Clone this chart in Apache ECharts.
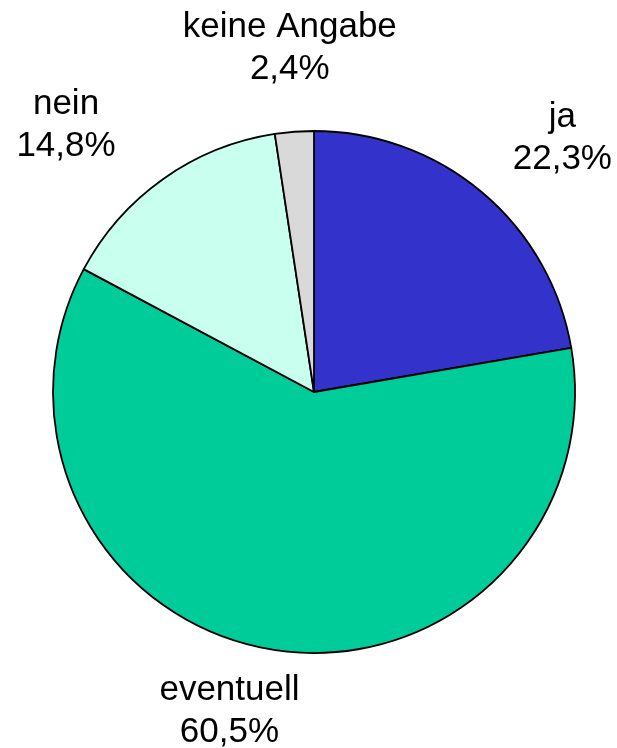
<!DOCTYPE html>
<html>
<head>
<meta charset="utf-8">
<script src="https://cdn.jsdelivr.net/npm/echarts@6/dist/echarts.min.js"></script>
<style>
  html, body { margin: 0; padding: 0; background: #fff; }
  #chart { width: 617px; height: 748px; }
</style>
</head>
<body>
<div id="chart"></div>
<script>
// Antworten (Anteil in %)
const categories = ['ja', 'eventuell', 'nein', 'keine Angabe']
const shares = [22.3, 60.5, 14.8, 2.4]
const colors = ['#3333CC', '#00CC99', '#C8FFEE', '#D9D9D9']
// small nudges so labels sit like in the original
const labelNudge = [[24, 12], [-29, -24], [-47, 17], [2, 3]]

const pieData = categories.map((name, i) => ({ name: name, value: shares[i] }))

const chart = echarts.init(document.getElementById('chart'))
chart.setOption({
  animation: false,
  color: colors,
  series: [
    {
      type: 'pie',
      center: [314, 392],
      radius: [0, 261],
      startAngle: 90,
      clockwise: true,
      silent: true,
      data: pieData,
      label: { show: false },
      labelLine: { show: false },
      itemStyle: {
        borderColor: '#000',
        borderWidth: 1.8
      }
    },
    {
      // invisible ring, only carries the labels
      type: 'pie',
      center: [314, 392],
      radius: [261, 429],
      startAngle: 90,
      clockwise: true,
      silent: true,
      data: pieData,
      itemStyle: { color: 'transparent', borderWidth: 0 },
      labelLine: { show: false },
      label: {
        show: true,
        position: 'inside',
        overflow: 'none',
        color: '#000',
        fontFamily: 'Liberation Sans, Arial, sans-serif',
        fontSize: 35,
        lineHeight: 42,
        align: 'center',
        formatter: function (p) {
          return p.name + '\n' + p.value.toFixed(1).replace('.', ',') + '%'
        }
      },
      labelLayout: function (p) {
        return { dx: labelNudge[p.dataIndex][0], dy: labelNudge[p.dataIndex][1] }
      }
    }
  ]
})
</script>
</body>
</html>
